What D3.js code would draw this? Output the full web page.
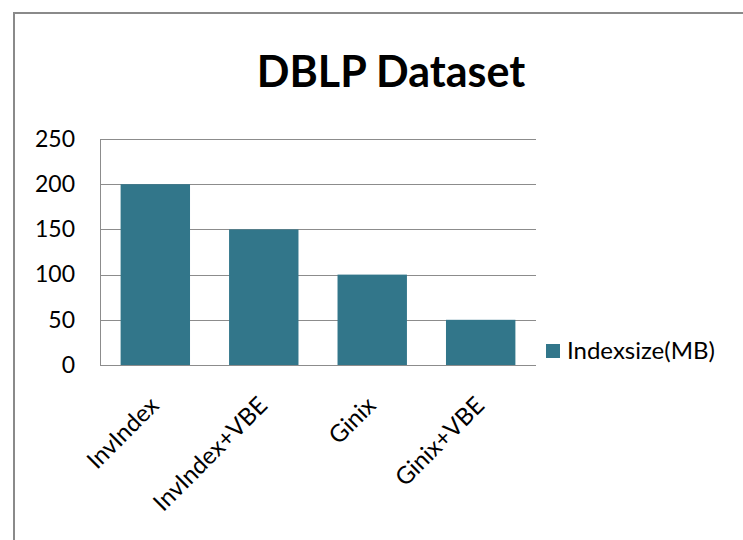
<!DOCTYPE html>
<html>
<head>
<meta charset="utf-8">
<script src="https://cdn.jsdelivr.net/npm/d3@7/dist/d3.min.js"></script>
<style>
  html, body { margin: 0; padding: 0; background: #fff; }
  svg { display: block; }
  text { font-family: Lato, "Open Sans", sans-serif; fill: #000; }
</style>
</head>
<body>
<svg id="chart" width="743" height="540"></svg>
<script>
const title = "DBLP Dataset";
const categories = ["InvIndex", "InvIndex+VBE", "Ginix", "Ginix+VBE"];
const seriesName = "Indexsize(MB)";
const values = [200, 150, 100, 50];
const yTicks = [0, 50, 100, 150, 200, 250];

const svg = d3.select("#chart");
const W = 743, H = 540;
const margin = { left: 100, right: 207, top: 139, bottom: 175 };
const plotW = W - margin.left - margin.right;
const plotH = H - margin.top - margin.bottom;
const barColor = "#32768A";
const gridColor = "#8c8c8c";

// outer frame
svg.append("path")
  .attr("d", `M14,${H} L14,13 L${W},13`)
  .attr("fill", "none").attr("stroke", "#8a8a8a").attr("stroke-width", 2);

// title
svg.append("text")
  .attr("x", 391).attr("y", 86.5)
  .attr("text-anchor", "middle")
  .attr("font-size", 43).attr("font-weight", "bold")
  .text(title);

const g = svg.append("g").attr("transform", `translate(${margin.left},${margin.top})`);

const x = d3.scaleBand().domain(categories).range([0, plotW]).paddingInner(0.36).paddingOuter(0.19);
const y = d3.scaleLinear().domain([0, 250]).range([plotH, 0]);

// gridlines
g.append("g").selectAll("line").data(yTicks).join("line")
  .attr("x1", 0).attr("x2", plotW)
  .attr("y1", d => Math.round(y(d)) + 0.5).attr("y2", d => Math.round(y(d)) + 0.5)
  .attr("stroke", gridColor).attr("stroke-width", 1);

// bars
g.append("g").selectAll("rect").data(values).join("rect")
  .attr("x", (d, i) => x(categories[i]))
  .attr("y", d => y(d))
  .attr("width", x.bandwidth())
  .attr("height", d => y(0) - y(d))
  .attr("fill", barColor);

// y axis
const yAxis = g.append("g").call(d3.axisLeft(y).tickValues(yTicks).tickSize(0).tickPadding(25));
yAxis.select(".domain").attr("stroke", gridColor).attr("d", `M0.5,${plotH}V0`);
yAxis.selectAll("text").attr("font-size", 23).attr("font-family", "Lato").attr("fill", "#000");

// x axis baseline
g.append("line").attr("x1", 0).attr("x2", plotW)
  .attr("y1", plotH + 0.5).attr("y2", plotH + 0.5).attr("stroke", gridColor);

// x labels
g.append("g").selectAll("text").data(categories).join("text")
  .attr("transform", d => `translate(${x(d) + x.bandwidth() / 2 + 5},${plotH + 42}) rotate(-45)`)
  .attr("text-anchor", "end")
  .attr("font-size", 24)
  .text(d => d);

// legend
const lg = svg.append("g").attr("transform", "translate(546,344)");
lg.append("rect").attr("width", 14).attr("height", 14).attr("fill", barColor);
lg.append("text").attr("x", 21).attr("y", 7).attr("dy", "0.35em")
  .attr("font-size", 24).text(seriesName);
</script>
</body>
</html>
